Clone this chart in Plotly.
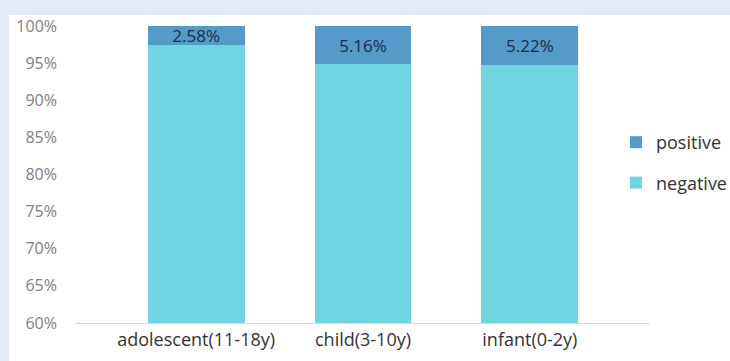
import plotly.graph_objects as go

# Share of positive / negative results per age group (percent)
groups = ["adolescent(11-18y)", "child(3-10y)", "infant(0-2y)"]
positive = [2.58, 5.16, 5.22]
negative = [100 - p for p in positive]
y_ticks = [60, 65, 70, 75, 80, 85, 90, 95, 100]
y_tick_labels = [f"{v}%" for v in y_ticks]

NEG_COLOR = "#70d4e1"
POS_COLOR = "#559bc9"
FONT = "Open Sans"

fig = go.Figure()
fig.add_trace(go.Bar(
    x=groups, y=negative, name="negative", marker_color=NEG_COLOR,
    marker_line_width=0, legendgroup="neg", legendrank=2,
    width=0.58, hoverinfo="skip",
))
fig.add_trace(go.Bar(
    x=groups, y=positive, name="positive", marker_color=POS_COLOR,
    marker_line_width=0, legendgroup="pos", legendrank=1, width=0.58,
    text=[f"{p:.2f}%" for p in positive], textposition="inside",
    insidetextanchor="middle", constraintext="none",
    textfont=dict(family=FONT, size=17, color="#1c2b48"),
))

W, H = 730, 361
L, R, T, B = 76, 80, 26, 38

fig.update_layout(
    width=W, height=H,
    barmode="stack",
    paper_bgcolor="#e4eaf3",
    plot_bgcolor="white",
    margin=dict(l=L, r=R, t=T, b=B, pad=0, autoexpand=False),
    font=dict(family=FONT),
    showlegend=True,
    legend=dict(
        x=(616 - L) / (W - L - R), xanchor="left",
        y=(323 - 124) / (H - T - B), yanchor="top",
        traceorder="grouped", tracegroupgap=14,
        font=dict(family=FONT, size=18, color="#333333"),
        bgcolor="rgba(0,0,0,0)",
    ),
    xaxis=dict(
        range=[-0.72, 2.72], showline=True, linecolor="#d9d9d9", linewidth=1,
        showgrid=False, ticks="", tickfont=dict(family=FONT, size=18, color="#333333"),
        fixedrange=True,
    ),
    yaxis=dict(
        range=[60, 100], tickmode="array", tickvals=y_ticks, ticktext=y_tick_labels,
        showgrid=False, showline=False, zeroline=False, ticks="",
        ticklabelstandoff=18,
        tickfont=dict(family=FONT, size=16, color="#808080"),
        fixedrange=True,
    ),
    shapes=[dict(
        type="rect", xref="paper", yref="paper", layer="below",
        x0=(9 - L) / (W - L - R), x1=(W + 5 - L) / (W - L - R),
        y0=-(B + 5) / (H - T - B), y1=(H - 15 - B) / (H - T - B),
        fillcolor="white", line=dict(width=0),
    )],
)

fig.write_html("out.html")
